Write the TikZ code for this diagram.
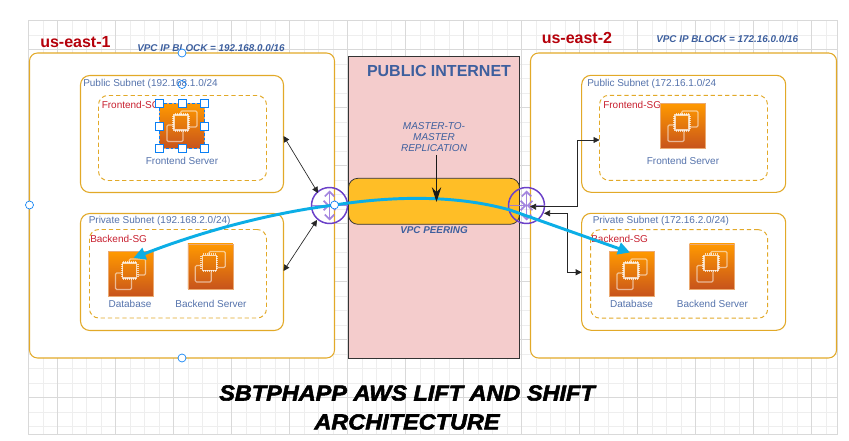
\documentclass[tikz,border=0pt]{standalone}
\usepackage{fontspec}
\setmainfont{Liberation Sans}
\newfontfamily\titlefont{Liberation Sans}[BoldItalicFeatures={FakeBold=2.5,FakeStretch=1.08}]
\usepackage{xcolor}
\usetikzlibrary{positioning,arrows.meta,calc}

\definecolor{gridminor}{HTML}{EEEEEE}
\definecolor{gridmajor}{HTML}{D9D9D9}
\definecolor{boxline}{HTML}{E2A928}
\definecolor{textblue}{HTML}{3D5F9E}
\definecolor{labelblue}{HTML}{5573AC}
\definecolor{regionred}{HTML}{B5000A}
\definecolor{sgred}{HTML}{C8202F}
\definecolor{internetfill}{HTML}{F4CCCC}
\definecolor{peerfill}{HTML}{FFBE26}
\definecolor{routerline}{HTML}{6A3FC8}
\definecolor{routerarrow}{HTML}{9A78DC}
\definecolor{linkblue}{HTML}{0BAEE6}
\definecolor{handleblue}{HTML}{0A80F5}
\definecolor{icontop}{HTML}{FF9900}
\definecolor{iconbottom}{HTML}{C7531C}

\tikzset{
   boxsize/.style 2 args={minimum width=#1*0.75pt,minimum height=#2*0.75pt,inner sep=0pt,outer sep=0pt,anchor=north west},
   regionbox/.style={draw=boxline,fill=white,line width=0.8pt,rounded corners=6pt},
   subnetbox/.style={draw=boxline,line width=0.8pt,rounded corners=7pt},
   sgbox/.style={draw=boxline,line width=0.7pt,dashed,dash pattern=on 3.2pt off 2.2pt,rounded corners=7pt},
   regionlabel/.style={text=regionred,font=\fontsize{12}{14}\selectfont\bfseries,anchor=west,inner sep=0pt},
   blocklabel/.style={text=textblue,font=\fontsize{7.4}{9}\selectfont\bfseries\itshape,anchor=west,inner sep=0pt},
   subnetlabel/.style={text=labelblue,font=\fontsize{7.5}{9}\selectfont,anchor=west,inner sep=0pt},
   sglabel/.style={text=sgred,font=\fontsize{7.5}{9}\selectfont,anchor=west,inner sep=0pt},
   serverlabel/.style={text=labelblue,font=\fontsize{7.5}{9}\selectfont,inner sep=0pt},
   ec2box/.style={minimum size=45*0.75pt,inner sep=0pt,outer sep=0pt,top color=icontop,bottom color=iconbottom,draw=icontop!40!iconbottom!60!white,line width=0.3pt},
   routernode/.style={circle,draw=routerline,line width=1.1pt,minimum size=36*0.75pt,inner sep=0pt,outer sep=0pt},
   routerflow/.style={draw=routerarrow,line width=1.3pt,opacity=0.9,-{Straight Barb[length=3.5pt,width=7pt]}},
   biarrow/.style={draw=black!85,line width=0.5pt,{Triangle[length=4.5pt,width=4.5pt]}-{Triangle[length=4.5pt,width=4.5pt]}},
   linkarrow/.style={draw=linkblue,line width=2.2pt,-{Triangle[length=9pt,width=9pt]}},
   roundhandle/.style={circle,draw=handleblue,fill=white,line width=0.5pt,minimum size=8*0.75pt,inner sep=0pt},
   squarehandle/.style={rectangle,draw=handleblue,fill=white,line width=0.6pt,minimum size=8*0.75pt,inner sep=0pt},
   chipicon/.pic={
      \draw[white,opacity=0.55,line width=0.9pt,rounded corners=1pt] (-1.3,-11) -- (-1.3,-15) -- (15,-15) -- (15,1) -- (7,1);
      \draw[white,opacity=0.55,line width=0.9pt,rounded corners=1pt] (-9,-1) -- (-15,-1) -- (-15,15.5) -- (1,15.5) -- (1,5);
      \draw[white,opacity=0.7,line width=0.9pt] (-8,-11) rectangle (6,4);
      \foreach \p in {-7,-5,-3,-1,1,3,5}{
         \draw[white,opacity=0.7,line width=0.5pt] (\p,-13) -- (\p,-11) (\p,4) -- (\p,6);
         \draw[white,opacity=0.7,line width=0.5pt] (-10,\p-3) -- (-8,\p-3) (6,\p-3) -- (8,\p-3);
      }
   }
}

\begin{document}
\begin{tikzpicture}[x=0.75pt,y=-0.75pt]
   \useasboundingbox (0,0) rectangle (849,441);

   % grid
   \foreach \k in {0,...,55}{
      \draw[gridminor,line width=0.5pt] ({28.7+14.5*\k},20.7) -- ({28.7+14.5*\k},434.3);
   }
   \foreach \k in {0,...,28}{
      \draw[gridminor,line width=0.5pt] (28.7,{20.7+14.5*\k}) -- (837,{20.7+14.5*\k});
   }
   \foreach \k in {0,...,13}{
      \draw[gridmajor,line width=0.5pt] ({57.7+58*\k},20.7) -- ({57.7+58*\k},434.3);
   }
   \foreach \k in {1,...,7}{
      \draw[gridmajor,line width=0.5pt] (28.7,{-8.3+58*\k}) -- (837,{-8.3+58*\k});
   }
   \draw[gridmajor,line width=0.5pt] (28.7,20.7) rectangle (837,434.3);

   % regions
   \node[regionbox,boxsize={305}{305}] (regionone) at (29.5,53) {};
   \node[regionbox,boxsize={306}{305}] (regiontwo) at (530.5,53) {};
   \node[regionlabel] (regiononelabel) at (40,42) {us-east-1};
   \node[regionlabel] (regiontwolabel) at (541.5,37.5) {us-east-2};
   \node[blocklabel] (blockone) at (137,48) {VPC IP BLOCK = 192.168.0.0/16};
   \node[blocklabel] (blocktwo) at (656,39.5) {VPC IP BLOCK = 172.16.0.0/16};

   % subnets us-east-1
   \node[subnetbox,boxsize={203}{117}] (publicone) at (80.5,75.5) {};
   \node[sgbox,boxsize={168}{85}] (frontsgone) at (98.5,95.5) {};
   \node[subnetbox,boxsize={203}{117}] (privateone) at (80.5,213.5) {};
   \node[sgbox,boxsize={177}{88.5}] (backsgone) at (89.5,229.5) {};
   \node[subnetlabel] (publiconelabel) at (83,83.5) {Public Subnet (192.168.1.0/24};
   \node[sglabel] (frontsgonelabel) at (101.5,104.5) {Frontend-SG};
   \node[subnetlabel] (privateonelabel) at (88.5,220.5) {Private Subnet (192.168.2.0/24)};
   \node[sglabel] (backsgonelabel) at (90,238.5) {Backend-SG};

   % subnets us-east-2
   \node[subnetbox,boxsize={204}{117}] (publictwo) at (581.7,75.3) {};
   \node[sgbox,boxsize={168}{85}] (frontsgtwo) at (599.5,95.3) {};
   \node[subnetbox,boxsize={204}{117}] (privatetwo) at (581.7,213.3) {};
   \node[sgbox,boxsize={177}{88.5}] (backsgtwo) at (590.7,229.7) {};
   \node[subnetlabel] (publictwolabel) at (587,83.5) {Public Subnet (172.16.1.0/24};
   \node[sglabel] (frontsgtwolabel) at (603,104.5) {Frontend-SG};
   \node[subnetlabel] (privatetwolabel) at (592.5,220.5) {Private Subnet (172.16.2.0/24)};
   \node[sglabel] (backsgtwolabel) at (591,238.5) {Backend-SG};

   % servers
   \node[ec2box] (frontone) at (182,126) {};
   \node[ec2box] (dbone) at (130.5,274) {};
   \node[ec2box] (backone) at (210.3,266.5) {};
   \node[ec2box] (fronttwo) at (683,126) {};
   \node[ec2box] (dbtwo) at (632,274) {};
   \node[ec2box] (backtwo) at (712,266.5) {};
   \foreach \s in {frontone,dbone,backone,fronttwo,dbtwo,backtwo}{
      \pic at (\s) {chipicon};
   }
   \node[serverlabel,below=6.3pt of frontone] (frontonelabel) {Frontend Server};
   \node[serverlabel] (dbonelabel) at (130,303.5) {Database};
   \node[serverlabel] (backonelabel) at (211,303.5) {Backend Server};
   \node[serverlabel,below=6.3pt of fronttwo] (fronttwolabel) {Frontend Server};
   \node[serverlabel] (dbtwolabel) at (631.5,303.5) {Database};
   \node[serverlabel] (backtwolabel) at (712.5,303.5) {Backend Server};

   % internet
   \node[draw=black!80,fill=internetfill,line width=0.7pt,boxsize={171}{301.5}] (internet) at (348.5,56.5) {};
   \node[text=textblue,font=\fontsize{12}{14}\selectfont\bfseries,inner sep=0pt] (internetlabel) at (439,71) {PUBLIC INTERNET};
   \node[draw=black!80,fill=peerfill,line width=0.6pt,rounded corners=7pt,boxsize={171}{46}] (peering) at (348.5,178.3) {};
   \node[text=textblue,font=\fontsize{7.4}{8.3}\selectfont\bfseries\itshape,inner sep=0pt] (peeringlabel) at (434,230.5) {VPC PEERING};
   \node[text=textblue,font=\fontsize{7.5}{8.4}\selectfont\itshape,align=center,inner sep=0pt] (replication) at (434,137) {MASTER-TO-\\MASTER\\REPLICATION};
   \coordinate (replicationend) at (436.5,202);
   \coordinate (replicationstart) at (436.5,155);

   % routers
   \node[routernode] (routerone) at (329.5,205.5) {};
   \node[routernode] (routertwo) at (526.5,205.5) {};
   \foreach \r in {routerone,routertwo}{
      \draw[routerflow,{Straight Barb[length=3.5pt,width=7pt]}-{Straight Barb[length=3.5pt,width=7pt]}] ($(\r.north)+(0,3)$) -- ($(\r.south)+(0,-3)$);
      \draw[routerflow] (\r.west) -- (\r.center);
      \draw[routerflow] (\r.east) -- (\r.center);
   }

   % connectors
   \coordinate (publiconeport) at (283.5,136);
   \coordinate (privateoneport) at (283.5,271);
   \coordinate (routeronetop) at (318,193);
   \coordinate (routeronebottom) at (317,220);
   \draw[biarrow] (publiconeport) -- (routeronetop);
   \draw[biarrow] (privateoneport) -- (routeronebottom);
   \coordinate (routertwoin) at (530,206.7);
   \coordinate (routertwolow) at (544,213.3);
   \coordinate (fronttwoport) at (599.5,140);
   \coordinate (backtwoport) at (581.7,272.3);
   \draw[biarrow] (routertwoin) -| (577.3,140) -- (fronttwoport);
   \draw[biarrow] (routertwolow) -| (567.7,272.3) -- (backtwoport);

   % replication links
   \coordinate (linkleft) at (334.5,205);
   \coordinate (dbonetip) at (133.5,258);
   \coordinate (dbtwotip) at (630,252.5);
   \draw[linkarrow] (linkleft) .. controls (270,213) and (200,232) .. (dbonetip);
   \draw[linkarrow] (linkleft) .. controls (400,195) and (460,196) .. (510,210) -- (dbtwotip);
   \draw[draw=black!90,line width=1pt,-{Stealth[length=11pt,width=7pt]}] (replicationstart) -- (replicationend);

   % selection handles
   \draw[handleblue,line width=0.5pt,dashed,dash pattern=on 2pt off 1.5pt] (frontone.north west) rectangle (frontone.south east);
   \foreach \a in {north west,north,north east,west,east,south west,south,south east}{
      \node[squarehandle] (handle \a) at (frontone.\a) {};
   }
   \node[roundhandle] (handletop) at (182,53) {};
   \node[roundhandle] (handleleft) at (29.5,205) {};
   \node[roundhandle] (handlebottom) at (182,358) {};
   \node[roundhandle] (handleright) at (334.5,205) {};
   \node[roundhandle,fill=none] (handlesubnet) at (182,84.5) {};

   % title
   \node[align=center,inner sep=0pt,font=\titlefont\fontsize{16.3}{21.7}\selectfont\bfseries\itshape] (title) at (407,407.5) {SBTPHAPP AWS LIFT AND SHIFT\\ARCHITECTURE};
\end{tikzpicture}
\end{document}
